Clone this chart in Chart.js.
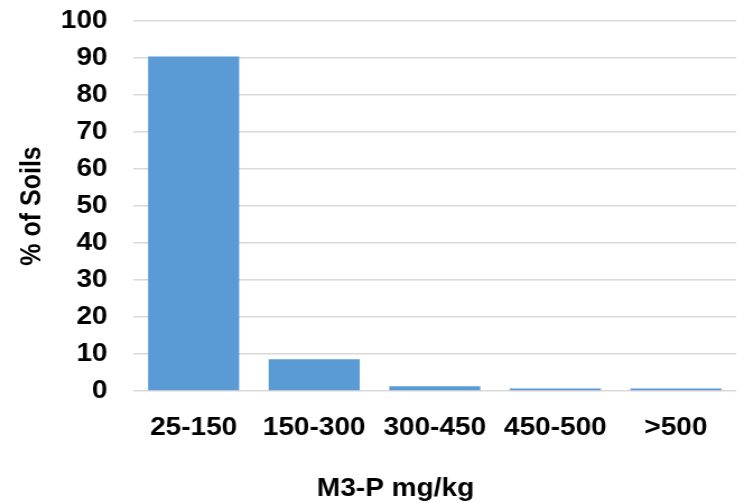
<!DOCTYPE html>
<html>
<head>
<meta charset="utf-8">
<script src="https://cdn.jsdelivr.net/npm/chart.js@4/dist/chart.umd.min.js"></script>
<style>
html,body{margin:0;padding:0;background:#fff;overflow:hidden;}
#wrap{width:744px;height:503px;position:relative;}
#c{display:block;}
</style>
</head>
<body>
<div id="wrap"><canvas id="c" width="664" height="503" style="width:744px;height:503px;"></canvas></div>
<script>
const categories = ['25-150', '150-300', '300-450', '450-500', '>500'];
const soilPercent = [90.4, 8.6, 1.3, 0.7, 0.7];
const yTicks = [0, 10, 20, 30, 40, 50, 60, 70, 80, 90, 100];
const xTitle = 'M3-P mg/kg';
const yTitle = '% of Soils';

const FONT = "'Liberation Sans', Arial, sans-serif";
const labelFont = { family: FONT, size: 25, weight: 'bold' };

// draws the x-axis title, which in the original sits left of the plot centre
const xTitlePlugin = {
  id: 'xTitlePlugin',
  afterDraw(chart) {
    const ctx = chart.ctx;
    const area = chart.chartArea;
    ctx.save();
    ctx.font = `bold ${labelFont.size}px ${FONT}`;
    ctx.fillStyle = '#000';
    ctx.textAlign = 'center';
    ctx.textBaseline = 'middle';
    ctx.fillText(xTitle, (area.left + area.right) / 2 - 35, chart.height - 14);
    ctx.restore();
  }
};

new Chart(document.getElementById('c'), {
  type: 'bar',
  data: {
    labels: categories,
    datasets: [{
      data: soilPercent,
      backgroundColor: '#5b9bd5',
      borderWidth: 0,
      barPercentage: 0.755,
      categoryPercentage: 1.0
    }]
  },
  plugins: [xTitlePlugin],
  options: {
    responsive: false,
    animation: false,
    devicePixelRatio: 1,
    layout: { padding: { top: 21, right: 7, left: 0, bottom: 0 } },
    plugins: { legend: { display: false }, tooltip: { enabled: false } },
    scales: {
      x: {
        grid: { display: false, drawTicks: false },
        border: { display: false },
        ticks: { color: '#000', font: labelFont, padding: 22, maxRotation: 0, autoSkip: false },
        title: { display: false },
        afterFit: s => { s.height = 112; s.paddingLeft = 0; s.paddingRight = 0; }
      },
      y: {
        min: 0, max: 100,
        afterBuildTicks: s => { s.ticks = yTicks.map(v => ({ value: v })); },
        grid: { color: '#d9d9d9', lineWidth: 1.5, drawTicks: false },
        border: { display: false },
        ticks: { color: '#000', font: labelFont, padding: 23 },
        title: { display: true, text: yTitle, color: '#000', font: labelFont, padding: { top: 14, bottom: 0 } },
        afterFit: s => { s.width = 119; s.paddingTop = 0; s.paddingBottom = 0; }
      }
    }
  }
});
</script>
</body>
</html>
